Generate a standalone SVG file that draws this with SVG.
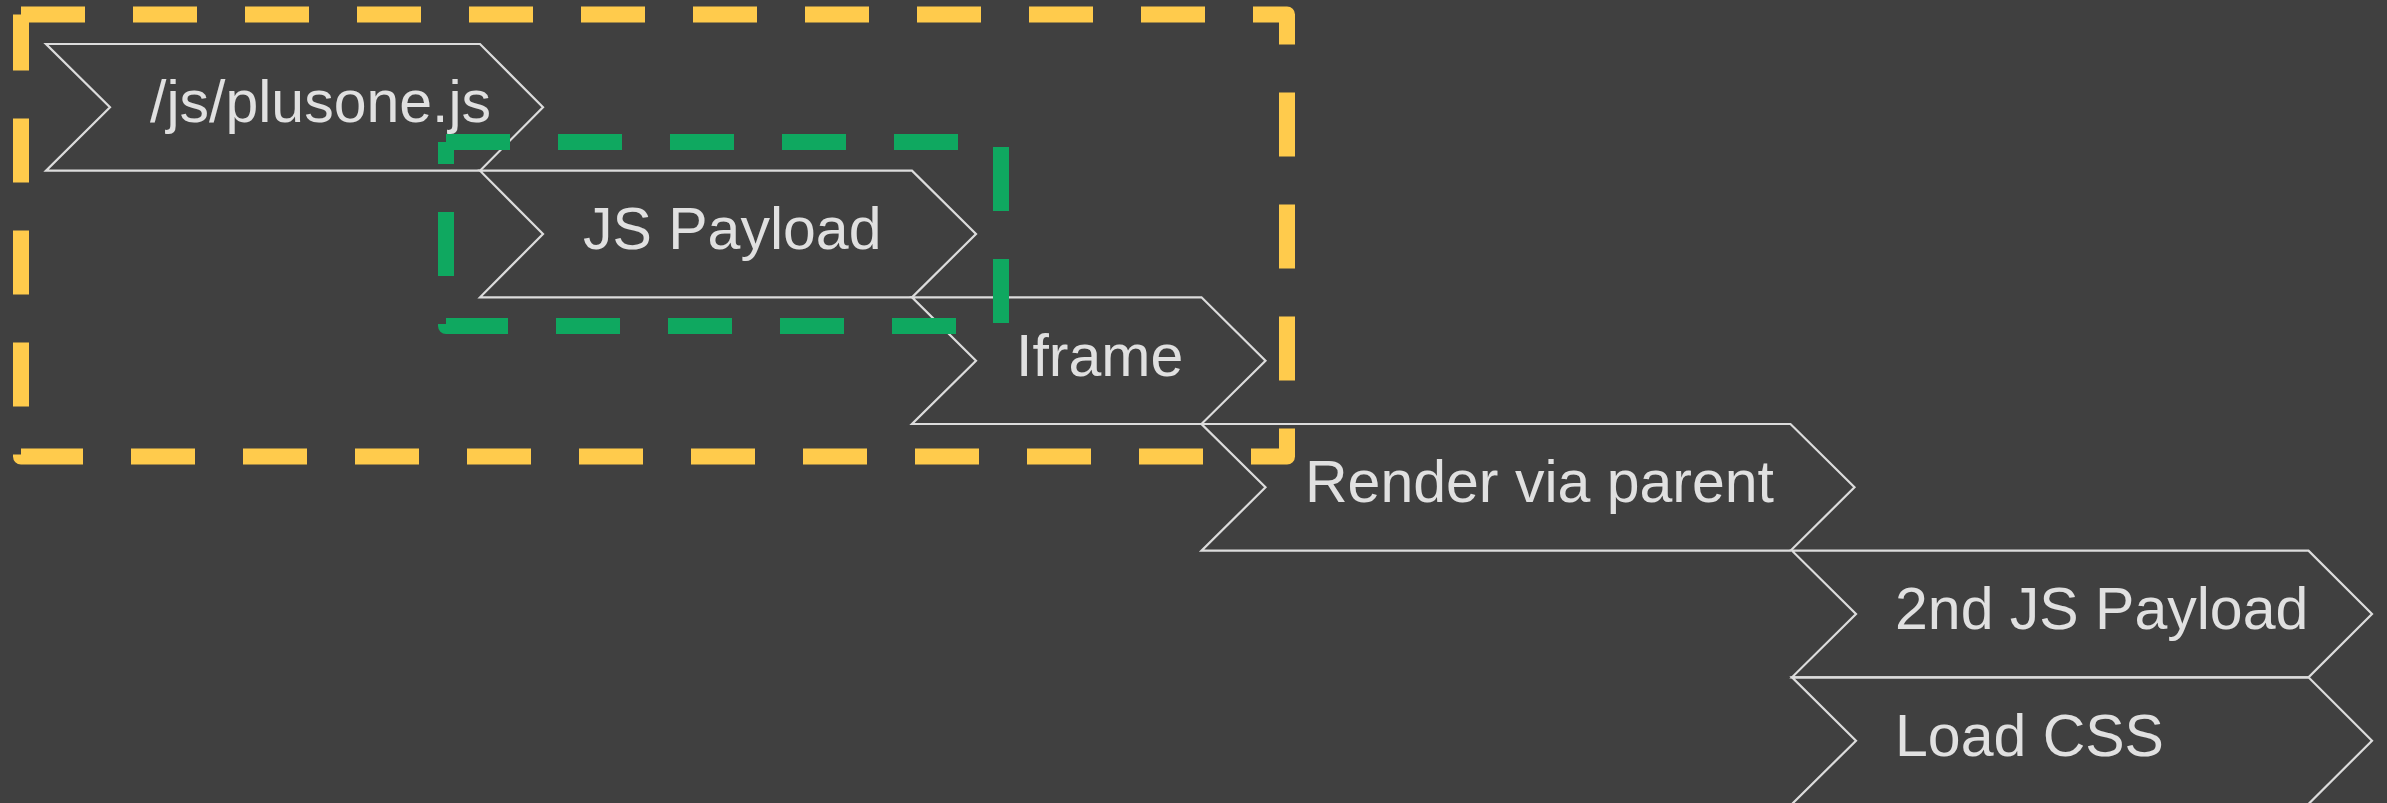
<svg xmlns="http://www.w3.org/2000/svg" width="2387" height="803" viewBox="0 0 2387 803">
  <style>
    .chev { fill: none; stroke: #dcdcdc; stroke-width: 2.2; stroke-linejoin: miter; }
    .lbl { font-family: "Liberation Sans", Arial, sans-serif; font-size: 59px; fill: #e0e0e0; }
    .frame { fill: none; stroke-width: 16; stroke-dasharray: 64 48; stroke-linejoin: round; stroke-linecap: butt; }
  </style>
  <rect x="0" y="0" width="2387" height="803" fill="#404040"/>

  <!-- request stages, one chevron per step -->
  <g id="node-plusone">
    <path class="chev" d="M46,44 L480,44 L543,107.3 L480,170.7 L46,170.7 L110,107.3 Z"/>
    <text class="lbl" x="150" y="122.3">/js/plusone.js</text>
  </g>
  <g id="node-js-payload">
    <path class="chev" d="M480,170.7 L912,170.7 L976,234 L912,297.3 L480,297.3 L543,234 Z"/>
    <text class="lbl" x="583" y="249">JS Payload</text>
  </g>
  <g id="node-iframe">
    <path class="chev" d="M912,297.3 L1201.5,297.3 L1265.5,360.7 L1201.5,424 L912,424 L976,360.7 Z"/>
    <text class="lbl" x="1016" y="375.7">Iframe</text>
  </g>
  <g id="node-render">
    <path class="chev" d="M1201.5,424 L1790.5,424 L1854.5,487.3 L1790.5,550.7 L1201.5,550.7 L1265.5,487.3 Z"/>
    <text class="lbl" x="1305" y="502.3">Render via parent</text>
  </g>
  <g id="node-js-payload-2">
    <path class="chev" d="M1792,550.7 L2308.5,550.7 L2372,614 L2308.5,677.3 L1792,677.3 L1856,614 Z"/>
    <text class="lbl" x="1895" y="629">2nd JS Payload</text>
  </g>
  <g id="node-load-css">
    <path class="chev" d="M1792,677.3 L2308.5,677.3 L2372,740.7 L2308.5,804 L1792,804 L1856,740.7 Z"/>
    <text class="lbl" x="1895" y="755.7">Load CSS</text>
  </g>

  <!-- grouping frames drawn over the stages; open outlines so the dash
       run starts and ends with square ends at the top-left corner -->
  <g id="frames">
    <path class="frame" d="M21,14.5 H1287 V456.5 H21 V14.5" stroke="#ffcb4c"/>
    <path class="frame" d="M446,142 H1001 V326 H446 V142" stroke="#0fa860"/>
  </g>
</svg>
